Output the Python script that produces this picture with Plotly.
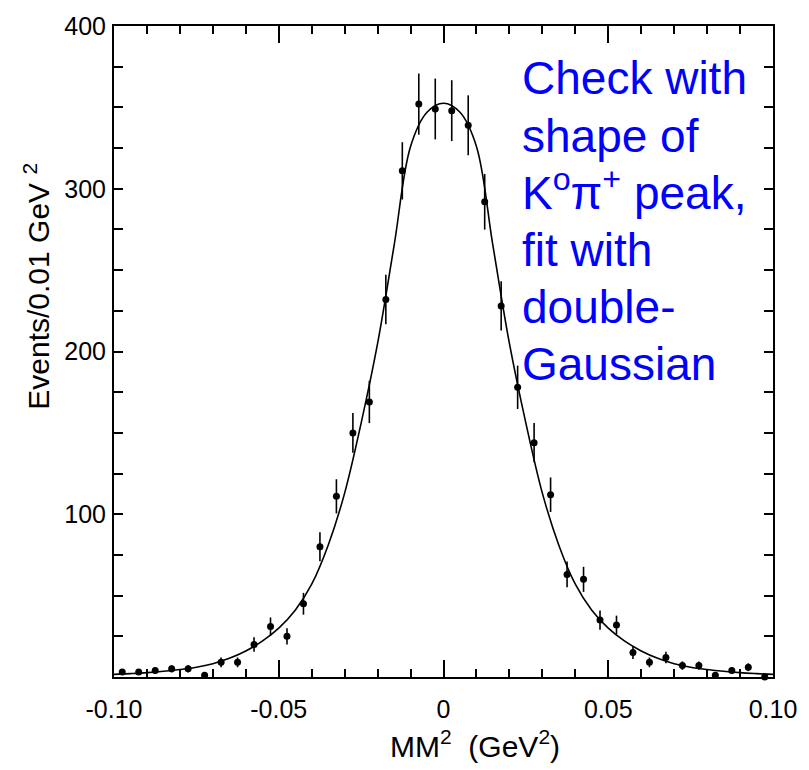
import plotly.graph_objects as go

# Data points (bin centres, counts, sqrt(N) errors)
bin_centers = [-0.0975, -0.0925, -0.0875, -0.0825, -0.0775, -0.0725, -0.0675, -0.0625,
               -0.0575, -0.0525, -0.0475, -0.0425, -0.0375, -0.0325, -0.0275, -0.0225,
               -0.0175, -0.0125, -0.0075, -0.0025, 0.0025, 0.0075, 0.0125, 0.0175,
               0.0225, 0.0275, 0.0325, 0.0375, 0.0425, 0.0475, 0.0525, 0.0575,
               0.0625, 0.0675, 0.0725, 0.0775, 0.0825, 0.0875, 0.0925, 0.0975]
counts = [3, 3, 4, 5, 5, 1, 9, 9, 20, 31, 25, 45, 80, 111, 150, 169, 232, 311, 352, 349,
          348, 339, 292, 228, 178, 144, 112, 63, 60, 35, 32, 15, 9, 12, 7, 7, 1, 4, 6, 0]
errors = [1.7, 1.7, 2.0, 2.2, 2.2, 1.0, 3.0, 3.0, 4.5, 5.6, 5.0, 6.7, 8.9, 10.5, 12.2, 13.0,
          15.2, 17.6, 18.8, 18.7, 18.7, 18.4, 17.1, 15.1, 13.3, 12.0, 10.6, 7.9, 7.7, 5.9,
          5.7, 3.9, 3.0, 3.5, 2.6, 2.6, 1.0, 2.0, 2.4, 0.0]

# Fit curve (double-Gaussian)
curve_x = [-0.100, -0.095, -0.090, -0.085, -0.080, -0.075, -0.070, -0.065, -0.060, -0.055,
           -0.050, -0.045, -0.040, -0.035, -0.030, -0.025, -0.020, -0.015, -0.010, -0.005,
           0.000, 0.005, 0.010, 0.015, 0.020, 0.025, 0.030, 0.035, 0.040, 0.045,
           0.050, 0.055, 0.060, 0.065, 0.070, 0.075, 0.080, 0.085, 0.090, 0.095, 0.100]
curve_y = [1.6, 2.1, 2.7, 3.5, 4.6, 6.0, 8.2, 11.5, 16, 22,
           30, 41, 57, 81, 113, 156, 205, 265, 326, 347,
           352.5, 347, 326, 265, 205, 156, 113, 81, 57, 41,
           30, 22, 16, 11.5, 8.2, 6.0, 4.6, 3.5, 2.7, 2.1, 1.6]

x_tickvals = [-0.10, -0.05, 0, 0.05, 0.10]
x_ticktext = ["-0.10", "-0.05", "0", "0.05", "0.10"]
y_tickvals = [100, 200, 300, 400]
y_ticktext = ["100", "200", "300", "400"]

note_lines = ["Check with", "shape of", "K<sup>o</sup>\u03c0<sup>+</sup> peak,",
              "fit with", "double-", "Gaussian"]

FONT = "Liberation Sans, Arial, Helvetica, sans-serif"

fig = go.Figure()
fig.add_trace(go.Scatter(x=curve_x, y=curve_y, mode="lines",
                         line=dict(color="black", width=1.6, shape="spline", smoothing=1.0),
                         hoverinfo="skip"))
fig.add_trace(go.Scatter(x=bin_centers, y=counts, mode="markers",
                         marker=dict(color="black", size=7),
                         error_y=dict(type="data", array=errors, visible=True,
                                      thickness=1.6, width=0, color="black"),
                         cliponaxis=False))

axis_common = dict(showgrid=False, zeroline=False, showline=True, linecolor="black",
                   linewidth=2, mirror="ticks", ticks="inside", tickcolor="black",
                   tickwidth=1.5, tickfont=dict(family=FONT, size=25, color="black"))

fig.update_xaxes(range=[-0.10, 0.10], tickvals=x_tickvals, ticktext=x_ticktext,
                 ticklen=17, ticklabelstandoff=9,
                 minor=dict(dtick=0.01, ticks="inside", ticklen=8, tickcolor="black",
                            tickwidth=1.5, showgrid=False),
                 **axis_common)
fig.update_yaxes(range=[0, 400], tickvals=y_tickvals, ticktext=y_ticktext,
                 ticklen=9, ticklabelstandoff=1,
                 minor=dict(tickvals=[25, 50, 75, 125, 150, 175, 225, 250, 275, 325, 350, 375],
                            ticks="inside", ticklen=9, tickcolor="black",
                            tickwidth=1.5, showgrid=False),
                 **axis_common)

annotations = []
baselines = [92, 149.5, 207, 264.5, 322, 380]
for line, yb in zip(note_lines, baselines):
    annotations.append(dict(text=line, xref="paper", yref="paper",
                            x=(524 - 114) / 665, y=(677 - yb) / 656,
                            xanchor="left", yanchor="bottom", yshift=-10,
                            showarrow=False,
                            font=dict(family=FONT, size=46, color="#0000ff")))
annotations.append(dict(text="Events/0.01 GeV <sup>2</sup>", textangle=-90,
                        xref="paper", yref="paper", x=(36 - 114) / 665,
                        y=(677 - 283) / 656, xanchor="center", yanchor="middle",
                        showarrow=False, font=dict(family=FONT, size=30, color="black")))
annotations.append(dict(text="MM<sup>2</sup>  (GeV<sup>2</sup>)",
                        xref="paper", yref="paper", x=(478 - 114) / 665,
                        y=(677 - 745) / 656, xanchor="center", yanchor="middle",
                        showarrow=False, font=dict(family=FONT, size=30, color="black")))

fig.update_layout(width=809, height=770, margin=dict(l=114, r=30, t=21, b=93),
                  paper_bgcolor="white", plot_bgcolor="white", showlegend=False,
                  annotations=annotations)

fig.write_html("out.html")
